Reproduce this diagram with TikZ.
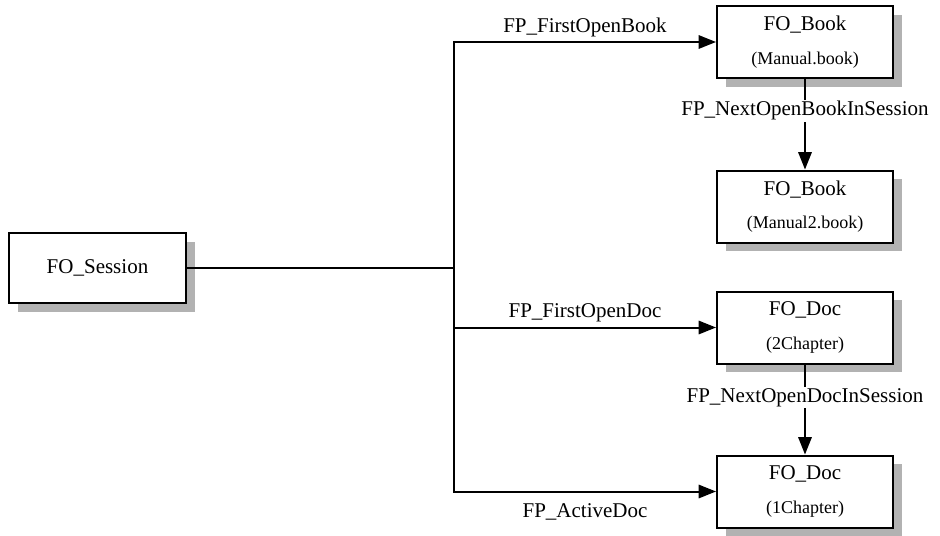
\documentclass[tikz,border=0pt]{standalone}
\usepackage{fontspec}
\setmainfont{Liberation Serif}
\usetikzlibrary{positioning, arrows.meta, shadows}

\newcommand{\subline}[1]{{\fontsize{13.5}{16}\selectfont #1}}

\begin{document}
\begin{tikzpicture}[x=0.75pt, y=-0.75pt,
    obj/.style={draw, line width=1.5pt, fill=white, minimum width=132pt, minimum height=54pt,
      inner sep=0pt, align=center, font=\fontsize{15.75}{19}\selectfont,
      drop shadow={shadow xshift=6.5pt, shadow yshift=-6.5pt, fill=gray!60, opacity=1}},
    ptr/.style={line width=1.5pt, -{Triangle[length=13pt, width=10pt]}},
    lbl/.style={font=\fontsize{15.75}{19}\selectfont}]
  \useasboundingbox (0,0) rectangle (940,536);
  % objects
  \node[obj, minimum width=132.75pt, minimum height=52.5pt] (sess) at (97.5,268) {FO\_Session};
  \node[obj] (book1) at (805,42) {FO\_Book\\[6pt]\subline{(Manual.book)}};
  \node[obj] (book2) at (805,206.5) {FO\_Book\\[6pt]\subline{(Manual2.book)}};
  \node[obj] (doc1) at (805,327.5) {FO\_Doc\\[6pt]\subline{(2Chapter)}};
  \node[obj] (doc2) at (805,491.5) {FO\_Doc\\[6pt]\subline{(1Chapter)}};
  % pointers
  \coordinate (fork) at (454,268);
  \draw[line width=1.5pt] (sess.east) -- (fork);
  \draw[ptr] (fork) |- node[lbl, above, pos=0.75] (firstbook) {FP\_FirstOpenBook} (book1.west);
  \draw[ptr] (fork) |- node[lbl, above, pos=0.75] (firstdoc) {FP\_FirstOpenDoc} (doc1.west);
  \draw[ptr] (fork) |- node[lbl, below=5pt, pos=0.75] (activedoc) {FP\_ActiveDoc} (doc2.west);
  \draw[ptr] (book1) -- node[lbl, fill=white, inner sep=1pt, pos=0.35] (nextbook) {FP\_NextOpenBookInSession} (book2);
  \draw[ptr] (doc1) -- node[lbl, fill=white, inner sep=1pt, pos=0.37] (nextdoc) {FP\_NextOpenDocInSession} (doc2);
\end{tikzpicture}
\end{document}
